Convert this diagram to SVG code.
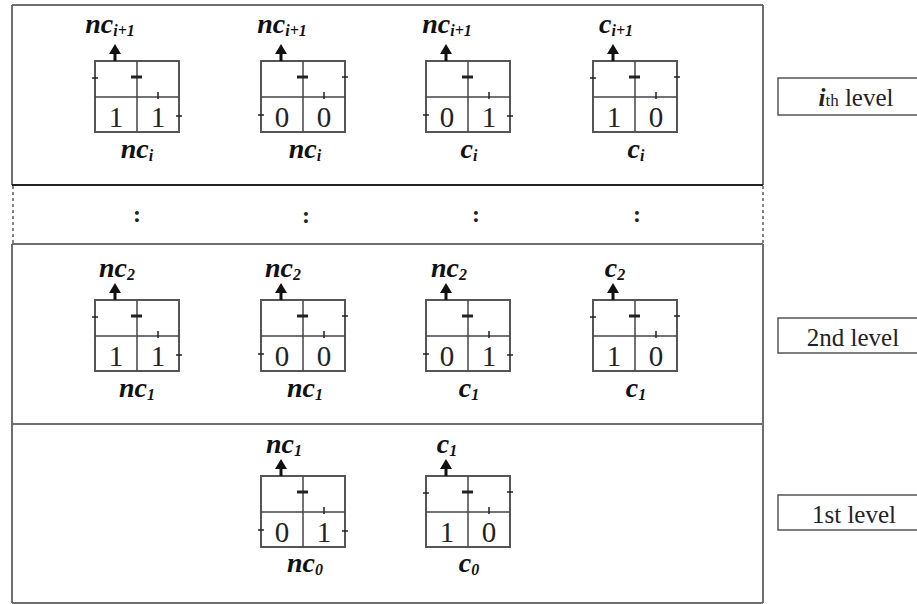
<svg xmlns="http://www.w3.org/2000/svg" width="917" height="604" viewBox="0 0 917 604">
<style>
.frame{fill:none;stroke:#6e6e6e;stroke-width:2}
.dash{fill:none;stroke:#333;stroke-width:1.2;stroke-dasharray:3 3}
.box{fill:#fff;stroke:#555;stroke-width:2}
.grid{stroke:#444;stroke-width:1.5}
.tick{stroke:#222;stroke-width:1.5}
.mtick{stroke:#222;stroke-width:3}
.digit{font-family:"Liberation Serif","Times New Roman","DejaVu Serif",serif;font-size:29px;text-anchor:middle;fill:#222}
.lab{font-family:"Liberation Serif","Times New Roman","DejaVu Serif",serif;font-weight:bold;font-style:italic;font-size:28px;fill:#111;text-anchor:middle}
.sub{font-size:16px}
.lvl{font-family:"Liberation Serif","Times New Roman","DejaVu Serif",serif;font-size:25px;fill:#222;text-anchor:middle}
.lbox{fill:#fff;stroke:#555;stroke-width:1.5}
.dots{font-family:"Liberation Serif","Times New Roman","DejaVu Serif",serif;font-weight:bold;font-size:24px;fill:#222;text-anchor:middle}
.arrow{stroke:#111;stroke-width:3;fill:none}
.head{fill:#111}
</style>
<defs>
<g id="cellbase">
<rect class="box" x="0" y="0" width="84" height="71"/>
<line class="grid" x1="42" y1="0" x2="42" y2="71"/>
<line class="grid" x1="0" y1="36" x2="84" y2="36"/>
<line class="mtick" x1="36" y1="16" x2="47" y2="16"/>
<line class="tick" x1="63" y1="31" x2="63" y2="38"/>
</g>
<g id="lu"><line class="tick" x1="-3" y1="17" x2="3" y2="17"/></g>
<g id="ru"><line class="tick" x1="81" y1="16" x2="87" y2="16"/></g>
<g id="ll"><line class="tick" x1="-3" y1="54" x2="3" y2="54"/></g>
<g id="rl"><line class="tick" x1="81" y1="55" x2="87" y2="55"/></g>
</defs>
<rect width="917" height="604" fill="#fff"/>

<g id="frames">
<line class="frame" x1="12" y1="5" x2="763" y2="5"/>
<line class="frame" x1="12" y1="5" x2="12" y2="185"/>
<line class="frame" x1="763" y1="5" x2="763" y2="185"/>
<line x1="12" y1="185" x2="763" y2="185" stroke="#222" stroke-width="2"/>
<line class="dash" x1="13" y1="186" x2="13" y2="244"/>
<line class="dash" x1="763" y1="186" x2="763" y2="244"/>
<line class="frame" x1="12" y1="244" x2="763" y2="244"/>
<line class="frame" x1="12" y1="244" x2="12" y2="603"/>
<line class="frame" x1="763" y1="244" x2="763" y2="603"/>
<line class="frame" x1="12" y1="424" x2="763" y2="424"/>
<line class="frame" x1="12" y1="603" x2="763" y2="603"/>
</g>

<g id="ellipsis">
<text class="dots" x="137" y="222">:</text>
<text class="dots" x="306" y="223">:</text>
<text class="dots" x="476" y="222">:</text>
<text class="dots" x="637" y="222">:</text>
</g>

<g id="cell-i-11" transform="translate(95,61)">
<use href="#cellbase"/><use href="#lu"/><use href="#rl"/>
<text class="digit" x="21" y="66">1</text><text class="digit" x="63" y="66">1</text>
</g>
<g id="cell-i-00" transform="translate(261,61)">
<use href="#cellbase"/><use href="#ru"/><use href="#ll"/>
<text class="digit" x="21" y="66">0</text><text class="digit" x="63" y="66">0</text>
</g>
<g id="cell-i-01" transform="translate(426,61)">
<use href="#cellbase"/><use href="#ll"/><use href="#rl"/>
<text class="digit" x="21" y="66">0</text><text class="digit" x="63" y="66">1</text>
</g>
<g id="cell-i-10" transform="translate(593,61)">
<use href="#cellbase"/><use href="#lu"/><use href="#ru"/>
<text class="digit" x="21" y="66">1</text><text class="digit" x="63" y="66">0</text>
</g>

<g id="cell-2-11" transform="translate(95,300)">
<use href="#cellbase"/><use href="#lu"/><use href="#rl"/>
<text class="digit" x="21" y="66">1</text><text class="digit" x="63" y="66">1</text>
</g>
<g id="cell-2-00" transform="translate(261,300)">
<use href="#cellbase"/><use href="#ru"/><use href="#ll"/>
<text class="digit" x="21" y="66">0</text><text class="digit" x="63" y="66">0</text>
</g>
<g id="cell-2-01" transform="translate(426,300)">
<use href="#cellbase"/><use href="#ll"/><use href="#rl"/>
<text class="digit" x="21" y="66">0</text><text class="digit" x="63" y="66">1</text>
</g>
<g id="cell-2-10" transform="translate(593,300)">
<use href="#cellbase"/><use href="#lu"/><use href="#ru"/>
<text class="digit" x="21" y="66">1</text><text class="digit" x="63" y="66">0</text>
</g>

<g id="cell-1-01" transform="translate(261,476)">
<use href="#cellbase"/><use href="#ll"/><use href="#rl"/>
<text class="digit" x="21" y="66">0</text><text class="digit" x="63" y="66">1</text>
</g>
<g id="cell-1-10" transform="translate(426,476)">
<use href="#cellbase"/><use href="#lu"/><use href="#ru"/>
<text class="digit" x="21" y="66">1</text><text class="digit" x="63" y="66">0</text>
</g>

<g id="connectors">
<path class="arrow" d="M115 61V52 M281 61V52 M446 61V52 M613 61V52"/>
<path class="head" d="M109 54L115 44L121 54Z M275 54L281 44L287 54Z M440 54L446 44L452 54Z M607 54L613 44L619 54Z"/>
<path class="arrow" d="M115 300V291 M281 300V291 M446 300V291 M613 300V291"/>
<path class="head" d="M109 293L115 283L121 293Z M275 293L281 283L287 293Z M440 293L446 283L452 293Z M607 293L613 283L619 293Z"/>
<path class="arrow" d="M281 476V467 M446 476V467"/>
<path class="head" d="M275 469L281 459L287 469Z M440 469L446 459L452 469Z"/>
</g>

<g id="labels">
<text class="lab" x="110" y="33">nc<tspan class="sub" dy="3">i+1</tspan></text>
<text class="lab" x="282" y="33">nc<tspan class="sub" dy="3">i+1</tspan></text>
<text class="lab" x="447" y="33">nc<tspan class="sub" dy="3">i+1</tspan></text>
<text class="lab" x="616" y="33">c<tspan class="sub" dy="3">i+1</tspan></text>
<text class="lab" x="137" y="158">nc<tspan class="sub" dy="3">i</tspan></text>
<text class="lab" x="305" y="158">nc<tspan class="sub" dy="3">i</tspan></text>
<text class="lab" x="469" y="158">c<tspan class="sub" dy="3">i</tspan></text>
<text class="lab" x="636" y="158">c<tspan class="sub" dy="3">i</tspan></text>

<text class="lab" x="117" y="277">nc<tspan class="sub" dy="3">2</tspan></text>
<text class="lab" x="283" y="277">nc<tspan class="sub" dy="3">2</tspan></text>
<text class="lab" x="449" y="277">nc<tspan class="sub" dy="3">2</tspan></text>
<text class="lab" x="615" y="277">c<tspan class="sub" dy="3">2</tspan></text>
<text class="lab" x="137" y="397">nc<tspan class="sub" dy="3">1</tspan></text>
<text class="lab" x="305" y="397">nc<tspan class="sub" dy="3">1</tspan></text>
<text class="lab" x="469" y="397">c<tspan class="sub" dy="3">1</tspan></text>
<text class="lab" x="636" y="397">c<tspan class="sub" dy="3">1</tspan></text>

<text class="lab" x="284" y="453">nc<tspan class="sub" dy="3">1</tspan></text>
<text class="lab" x="447" y="453">c<tspan class="sub" dy="3">1</tspan></text>
<text class="lab" x="305" y="572">nc<tspan class="sub" dy="3">0</tspan></text>
<text class="lab" x="469" y="572">c<tspan class="sub" dy="3">0</tspan></text>
</g>

<g id="level-i">
<rect class="lbox" x="778" y="78" width="150" height="37"/>
<text class="lvl" x="856" y="106"><tspan font-style="italic" font-weight="bold">i</tspan><tspan font-size="17px">th</tspan> level</text>
</g>
<g id="level-2">
<rect class="lbox" x="778" y="318" width="150" height="35"/>
<text class="lvl" x="853" y="346">2nd level</text>
</g>
<g id="level-1">
<rect class="lbox" x="778" y="495" width="150" height="35"/>
<text class="lvl" x="854" y="523">1st level</text>
</g>
</svg>
